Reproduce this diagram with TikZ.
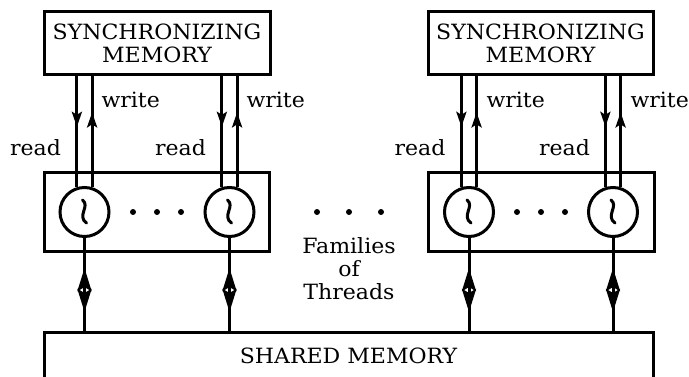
\documentclass[tikz,border=0pt]{standalone}
\usepackage{fontspec}
\setmainfont[FakeStretch=1.05]{DejaVu Serif}
\usetikzlibrary{arrows.meta, calc, decorations.markings}

\begin{document}
\begin{tikzpicture}[x=1pt, y=1pt, line width=3pt,
		font=\fontsize{21}{23}\selectfont,
		box/.style={draw, rectangle, inner sep=0pt, align=center},
		thread/.style={draw, circle, minimum size=49pt, inner sep=0pt},
		rwflow/.style={postaction={decorate}, decoration={markings,
			mark=at position #1 with {\arrow{Stealth[length=15pt, width=10pt, inset=3pt]}}}},
		bothflow/.style={postaction={decorate}, decoration={markings,
			mark=at position 0.325 with {\arrowreversed{Stealth[length=23pt, width=14pt, inset=4pt]}},
			mark=at position 0.8 with {\arrow{Stealth[length=23pt, width=14pt, inset=4pt]}}}},
		wave/.style={line cap=round}]
				\useasboundingbox (0,0) rectangle (689,376);
				\clip (0,0) rectangle (689,376);
				
				% synchronizing memories
				\node[box, minimum width=226pt, minimum height=62pt] (s1) at (157,333) {SYNCHRONIZING\\MEMORY};
				\node[box, minimum width=225pt, minimum height=62pt] (s2) at (540.5,333) {SYNCHRONIZING\\MEMORY};
				
				% families and their threads
				\node[box, minimum width=225pt, minimum height=79pt] (f1) at (156.5,164.5) {};
				\node[box, minimum width=226pt, minimum height=79pt] (f2) at (541,164.5) {};
				\node[thread] (t1) at (84.5,164) {};
				\node[thread] (t2) at (229.5,164) {};
				\node[thread] (t3) at (469,164) {};
				\node[thread] (t4) at (613,164) {};
				
				\draw[wave] ([shift={(-2,12)}]t1.center) .. controls +(8,-6) and +(-10,7) .. ([shift={(2,-11)}]t1.center);
				\draw[wave] ([shift={(-2,12)}]t2.center) .. controls +(8,-6) and +(-10,7) .. ([shift={(2,-11)}]t2.center);
				\draw[wave] ([shift={(-2,12)}]t3.center) .. controls +(8,-6) and +(-10,7) .. ([shift={(2,-11)}]t3.center);
				\draw[wave] ([shift={(-2,12)}]t4.center) .. controls +(8,-6) and +(-10,7) .. ([shift={(2,-11)}]t4.center);
				
				% shared memory
				\node[box, minimum width=609pt, minimum height=56pt, text height=14pt, text depth=8pt] (sh) at (348.5,16) {SHARED MEMORY};
				
				% dots
				\fill (133,164) circle (3) (157,164) circle (3) (181,164) circle (3);
				\fill (517,164) circle (3) (541,164) circle (3) (565,164) circle (3);
				\fill (317,164) circle (3) (349,164) circle (3) (381,164) circle (3);
				\node (fam) at (349,107.5) [align=center] {Families\\of\\Threads};
				
				% read and write lines
				\draw[rwflow=0.46] (s1.south -| t1.107) -- (t1.107);
				\draw[rwflow=0.67] (t1.73) -- (s1.south -| t1.73);
				\draw[rwflow=0.46] (s1.south -| t2.107) -- (t2.107);
				\draw[rwflow=0.67] (t2.73) -- (s1.south -| t2.73);
				\draw[rwflow=0.46] (s2.south -| t3.107) -- (t3.107);
				\draw[rwflow=0.67] (t3.73) -- (s2.south -| t3.73);
				\draw[rwflow=0.46] (s2.south -| t4.107) -- (t4.107);
				\draw[rwflow=0.67] (t4.73) -- (s2.south -| t4.73);
				
				\node[anchor=base east, inner sep=0pt] (r1) at (62.5,221) {read};
				\node[anchor=base west, inner sep=0pt] (w1) at (100,269) {write};
				\node[anchor=base east, inner sep=0pt] (r2) at (207.5,221) {read};
				\node[anchor=base west, inner sep=0pt] (w2) at (245,269) {write};
				\node[anchor=base east, inner sep=0pt] (r3) at (447,221) {read};
				\node[anchor=base west, inner sep=0pt] (w3) at (485,269) {write};
				\node[anchor=base east, inner sep=0pt] (r4) at (591.5,221) {read};
				\node[anchor=base west, inner sep=0pt] (w4) at (629,269) {write};
				
				% to the shared memory
				\draw[bothflow] (t1.south) -- (t1.south |- sh.north);
				\draw[bothflow] (t2.south) -- (t2.south |- sh.north);
				\draw[bothflow] (t3.south) -- (t3.south |- sh.north);
				\draw[bothflow] (t4.south) -- (t4.south |- sh.north);
			\end{tikzpicture}
\end{document}
